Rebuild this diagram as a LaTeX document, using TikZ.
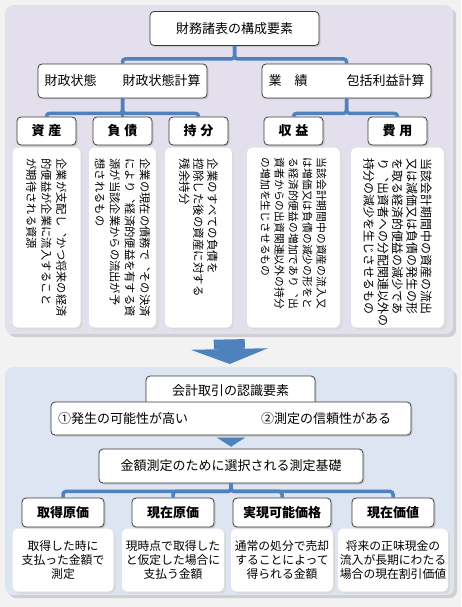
\documentclass[tikz,border=0pt]{standalone}
\usepackage{fontspec}
\setmainfont{Noto Sans CJK JP}
\newfontfamily\tatefont[Vertical=RotatedGlyphs]{Noto Sans CJK JP}
\usetikzlibrary{arrows.meta,positioning,shadows}
\definecolor{bgpage}{HTML}{F2F2F2}
\definecolor{panelpurple}{HTML}{E4DFEC}
\definecolor{panelblue}{HTML}{DCE5F1}
\definecolor{panelshade}{HTML}{CFCFD2}
\definecolor{linkblue}{HTML}{4F81BD}
\definecolor{boxline}{HTML}{3A3A3A}

\begin{document}
\begin{tikzpicture}[x=1pt, y=1pt,
  panel/.style = {rectangle, rounded corners=8pt, fill=#1, inner sep=0pt, anchor=north west,
                  drop shadow={shadow xshift=3pt, shadow yshift=-3pt, fill=panelshade, opacity=1}},
  head/.style  = {rectangle, rounded corners=4pt, draw=boxline, fill=white, line width=0.8pt,
                  minimum width=169pt, minimum height=34pt, inner sep=0pt,
                  font=\fontsize{13}{15}\selectfont,
                  drop shadow={shadow xshift=1.5pt, shadow yshift=-1.5pt, fill=black!22, opacity=1}},
  tag/.style   = {head, minimum width=#1, minimum height=28pt, font=\bfseries\fontsize{13}{15}\selectfont},
  note/.style  = {rectangle, rounded corners=6pt, fill=white, inner sep=0pt, minimum width=#1,
                  drop shadow={shadow xshift=2pt, shadow yshift=-2pt, fill=black!15, opacity=1}},
  tate/.style n args = {2}{rotate=-90, anchor=west, inner sep=0pt, align=left,
                  font=\tatefont\fontsize{#1}{#2}\selectfont},
  link/.style  = {draw=linkblue, line width=3.5pt, rounded corners=3pt},
]
\useasboundingbox (0,0) rectangle (461,-607);
\fill[bgpage] (0,0) rectangle (461,-607);

% panels
\node[panel=panelpurple, minimum width=448pt, minimum height=329pt] (upper) at (5,-5) {};
\node[panel=panelblue, minimum width=449pt, minimum height=228pt] (lower) at (5,-367) {};
\draw[linkblue, line width=31pt, -{Triangle[width=77pt, length=15pt, line width=0pt]}]
  ([yshift=-5pt]upper.south) -- ([yshift=3pt]lower.north);

% upper part
\node[head] (title) at (234.5,-28.5) {財務諸表の構成要素};
\node[head] (fin)   at (122.5,-81)   {財政状態　　財政状態計算};
\node[head] (perf)  at (346.5,-81)   {業　績　　　包括利益計算};

\node[tag=59pt] (shisan)   at (46.5,-131)  {資\hspace{0.3em}産};
\node[tag=59pt] (fusai)    at (122.5,-131) {負\hspace{0.3em}債};
\node[tag=59pt] (mochibun) at (198.5,-131) {持\hspace{0.3em}分};
\node[tag=59pt] (shueki)   at (293.5,-131) {収\hspace{0.3em}益};
\node[tag=59pt] (hiyou)    at (397.5,-131) {費\hspace{0.3em}用};

\node[note=68pt, minimum height=180pt, below=2pt of shisan]   (shisanD)   {};
\node[note=67pt, minimum height=180pt, below=2pt of fusai]    (fusaiD)    {};
\node[note=67pt, minimum height=180pt, below=2pt of mochibun] (mochibunD) {};
\node[note=93pt, minimum height=180pt, below=2pt of shueki]   (shuekiD)   {};
\node[note=93pt, minimum height=180pt, below=2pt of hiyou]    (hiyouD)    {};

\node[tate={11.3}{15}] (shisanT) at ([yshift=-11pt]shisanD.north)
  {企業が支配し、かつ将来の経済\\的便益が企業に流入すること\\が期待される資源};
\node[tate={11.3}{15}] (fusaiT) at ([yshift=-11pt]fusaiD.north)
  {企業の現在の債務で、その決済\\により、経済的便益を有する資\\源が当該企業からの流出が予\\想されるもの};
\node[tate={11.5}{14}] (mochibunT) at ([yshift=-11pt]mochibunD.north)
  {企業のすべての負債を\\控除した後の資産に対する\\残余持分};
\node[tate={10.8}{14}] (shuekiT) at ([yshift=-10pt]shuekiD.north)
  {当該会計期間中の資産の流入又\\は増価又は負債の減少の形をと\\る経済的便益の増加であり、出\\資者からの出資関連以外の持分\\の増加を生じさせるもの};
\node[tate={12}{14.3}] (hiyouT) at ([yshift=-11pt]hiyouD.north)
  {当該会計期間中の資産の流出\\又は減価又は負債の発生の形\\を取る経済的便益の減少であ\\り、出資者への分配関連以外の\\持分の減少を生じさせるもの};

\draw[link] (title.south) -- ++(0,-13) -| (fin.north);
\draw[link] (title.south) -- ++(0,-13) -| (perf.north);
\draw[link] (fin.south) -- ++(0,-15) -| (shisan.north);
\draw[link] (fin.south) -- ++(0,-15) -| (fusai.north);
\draw[link] (fin.south) -- ++(0,-15) -| (mochibun.north);
\draw[link] (perf.south) -- ++(0,-15) -| (shueki.north);
\draw[link] (perf.south) -- ++(0,-15) -| (hiyou.north);

% lower part
\node[head, minimum height=30pt] (ninshiki) at (230.5,-391) {会計取引の認識要素};
\node[head, minimum width=360pt, minimum height=33pt, text width=346pt, align=left] (joken)
  at (231,-418.5) {①発生の可能性が高い\hspace{73pt}②測定の信頼性がある};
\node[head, minimum width=264pt] (kingaku) at (231,-466) {金額測定のために選択される測定基礎};
\draw[linkblue, line width=0.1pt, -{Triangle[width=28pt, length=9pt]}]
  ([yshift=-3pt]joken.south) -- ([yshift=2pt]kingaku.north);

\node[tag=82pt, minimum height=29pt] (shutoku)  at (63,-512.5)  {取得原価};
\node[tag=82pt, minimum height=29pt] (genzai)   at (173,-512.5) {現在原価};
\node[tag=98pt, minimum height=29pt] (jitsugen) at (282,-512.5) {実現可能価格};
\node[tag=82pt, minimum height=29pt] (kachi)    at (393,-512.5) {現在価値};

\node[note=101pt, minimum height=63pt, below=1pt of shutoku, align=center,
      font=\fontsize{11.8}{14}\selectfont] (shutokuD) {取得した時に\\支払った金額で\\測定};
\node[note=102pt, minimum height=63pt, below=1pt of genzai, align=center,
      font=\fontsize{11.8}{14}\selectfont] (genzaiD) {現時点で取得した\\と仮定した場合に\\支払う金額};
\node[note=102pt, minimum height=63pt, below=1pt of jitsugen, align=center,
      font=\fontsize{11.8}{14}\selectfont] (jitsugenD) {通常の処分で売却\\することによって\\得られる金額};
\node[note=110pt, minimum height=63pt, below=1pt of kachi, align=center,
      font=\fontsize{11.8}{14}\selectfont] (kachiD) {将来の正味現金の\\流入が長期にわたる\\場合の現在割引価値};

\draw[link] (kingaku.south) -- ++(0,-8) -| (shutoku.north);
\draw[link] (kingaku.south) -- ++(0,-8) -| (genzai.north);
\draw[link] (kingaku.south) -- ++(0,-8) -| (jitsugen.north);
\draw[link] (kingaku.south) -- ++(0,-8) -| (kachi.north);
\end{tikzpicture}
\end{document}
